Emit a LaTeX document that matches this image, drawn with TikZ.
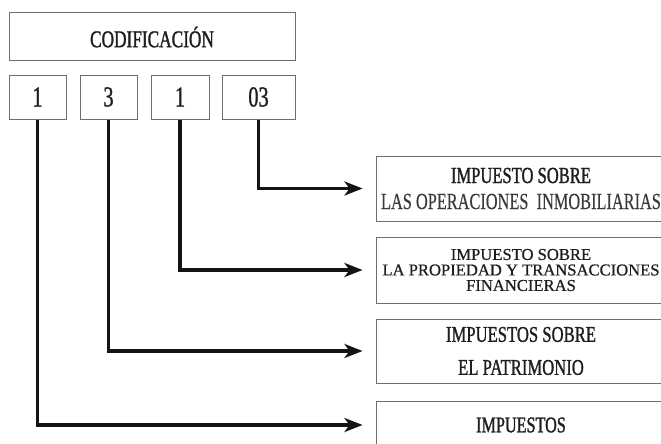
\documentclass[tikz,border=0pt]{standalone}
\usepackage{fontspec}
\setmainfont{Liberation Serif}
\newfontfamily\condfont[FakeStretch=0.72,FakeBold=1.2]{Liberation Serif}
\newfontfamily\condlight[FakeStretch=0.71,FakeBold=0.3]{Liberation Serif}
\newfontfamily\condmid[FakeStretch=0.74,FakeBold=1]{Liberation Serif}
\newfontfamily\digfont[FakeStretch=0.7,FakeBold=1]{Liberation Serif}
\newfontfamily\plainfont[FakeBold=0.6]{Liberation Serif}
\usetikzlibrary{arrows.meta}
\definecolor{boxgray}{HTML}{6E6E6E}
\definecolor{txt}{HTML}{1E1E1E}
\definecolor{txtlight}{HTML}{3A3A3A}
\tikzset{
  box/.style={draw=boxgray, line width=1pt, rectangle, inner sep=0pt, text=txt, align=center},
  link/.style={line width=3.4pt, draw=black!92, -{Stealth[length=18pt,width=14pt,inset=5pt]}},
}
\begin{document}
\begin{tikzpicture}[x=1pt,y=-1pt]
\useasboundingbox (0,0) rectangle (661,444);
\fill[white] (0,0) rectangle (661,444);
\clip (0,0) rectangle (661,444);

% top box
\node[box, minimum width=286pt, minimum height=48pt, font=\condfont\fontsize{24}{26}\selectfont] (cod) at (152,37) {CODIFICACIÓN};

% digit boxes
\node[box, minimum width=57pt, minimum height=44pt, font=\digfont\fontsize{29}{30}\selectfont] (d1) at (37.5,97) {1};
\node[box, minimum width=57pt, minimum height=44pt, font=\digfont\fontsize{29}{30}\selectfont] (d2) at (108.5,97) {3};
\node[box, minimum width=58pt, minimum height=44pt, font=\digfont\fontsize{29}{30}\selectfont] (d3) at (180,97) {1};
\node[box, minimum width=73pt, minimum height=44pt, font=\digfont\fontsize{29}{30}\selectfont] (d4) at (258.5,97) {03};

% right boxes
\node[box, minimum width=290pt, minimum height=65pt, font=\condfont\fontsize{23}{26}\selectfont] (r1) at (521,188.5)
  {IMPUESTO SOBRE\\ {\condlight\color{txtlight}LAS OPERACIONES\ \ INMOBILIARIAS}};
\node[box, minimum width=290pt, minimum height=66pt, font=\plainfont\fontsize{16.6}{15.5}\selectfont] (r2) at (521,270)
  {IMPUESTO SOBRE\\ LA PROPIEDAD Y TRANSACCIONES\\ FINANCIERAS};
\node[box, minimum width=290pt, minimum height=64pt, font=\condmid\fontsize{22.5}{33}\selectfont] (r3) at (521,351)
  {\raisebox{-3pt}{IMPUESTOS SOBRE}\\ \raisebox{-3pt}{EL PATRIMONIO}};
\node[box, minimum width=290pt, minimum height=48pt, font=\condfont\fontsize{22.5}{24}\selectfont] (r4) at (521,425)
  {IMPUESTOS};

% connectors
\draw[link] (d4.south) |- ([xshift=-13pt]r1.west);
\draw[link] (d3.south) |- ([xshift=-13pt]r2.west);
\draw[link] (d2.south) |- ([xshift=-13pt]r3.west);
\draw[link] (d1.south) |- ([xshift=-13pt]r4.west);
\end{tikzpicture}
\end{document}
